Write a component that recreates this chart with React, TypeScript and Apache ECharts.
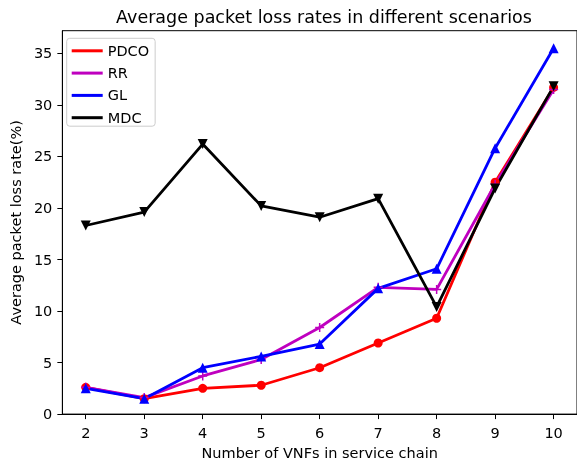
import React, { useEffect, useRef } from "react";
import * as echarts from "echarts";

const xValues = [2, 3, 4, 5, 6, 7, 8, 9, 10];
const pdco = [2.6, 1.5, 2.5, 2.8, 4.5, 6.9, 9.3, 22.5, 31.7];
const rr = [2.6, 1.6, 3.7, 5.3, 8.4, 12.3, 12.1, 22.3, 31.5];
const gl = [2.5, 1.5, 4.5, 5.6, 6.8, 12.2, 14.1, 25.8, 35.5];
const mdc = [18.3, 19.6, 26.2, 20.2, 19.1, 20.9, 10.4, 21.9, 31.8];
const yTicks = [0, 5, 10, 15, 20, 25, 30, 35];
const seriesNames = ["PDCO", "RR", "GL", "MDC"];

const FONT = "DejaVu Sans";

export default function App() {
  const ref = useRef<HTMLDivElement>(null);
  useEffect(() => {
    if (!ref.current) return;
    const chart = echarts.init(ref.current, null, { renderer: "svg" });
    const pair = (ys: number[]) => xValues.map((x, i) => [x, ys[i]]);
    const mk = (name: string, data: number[], color: string, symbol: string, size: number, extra: any = {}) => ({
      name,
      type: "line",
      data: pair(data),
      symbol,
      symbolSize: size,
      lineStyle: { color, width: 2.8 },
      itemStyle: { color },
      ...extra,
    });
    chart.setOption({
      animation: false,
      title: {
        text: "Average packet loss rates in different scenarios",
        left: 319,
        textAlign: "center",
        top: 3,
        textStyle: { fontFamily: FONT, fontSize: 17.5, fontWeight: "normal", color: "#000" },
      },
      legend: {
        orient: "vertical",
        left: 66.7,
        top: 38.3,
        data: seriesNames,
        icon: "rect",
        itemWidth: 31,
        itemHeight: 3,
        itemGap: 7.3,
        itemStyle: { borderWidth: 0 },
        padding: [5, 6, 1, 5],
        borderColor: "#cccccc",
        borderWidth: 1,
        borderRadius: 3,
        backgroundColor: "rgba(255,255,255,0.8)",
        textStyle: { fontFamily: FONT, fontSize: 14.5, color: "#000", lineHeight: 15 },
      },
      grid: { left: 60, top: 30.7, width: 518.6, height: 387.6, show: true, borderColor: "#000", borderWidth: 1, backgroundColor: "transparent" },
      xAxis: {
        type: "value",
        min: 1.6,
        max: 10.4,
        name: "Number of VNFs in service chain",
        nameLocation: "middle",
        nameGap: 30,
        nameTextStyle: { fontFamily: FONT, fontSize: 14.5, color: "#000" },
        axisLine: { show: true, onZero: false, lineStyle: { color: "#000", width: 1 } },
        axisTick: { show: true, length: 5, customValues: xValues, lineStyle: { color: "#000" } },
        axisLabel: { customValues: xValues, margin: 11, fontFamily: FONT, fontSize: 14.5, color: "#000" },
        splitLine: { show: false },
      },
      yAxis: {
        type: "value",
        min: 0,
        max: 37.2,
        name: "Average packet loss rate(%)",
        nameLocation: "middle",
        nameGap: 38,
        nameTextStyle: { fontFamily: FONT, fontSize: 14.5, color: "#000" },
        axisLine: { show: true, lineStyle: { color: "#000", width: 1 } },
        axisTick: { show: true, length: 5, customValues: yTicks, lineStyle: { color: "#000" } },
        axisLabel: { customValues: yTicks, margin: 10, fontFamily: FONT, fontSize: 14.5, color: "#000" },
        splitLine: { show: false },
      },
      series: [
        mk("PDCO", pdco, "#ff0000", "circle", 9),
        mk("RR", rr, "#bf00bf", "path://M5,0 L5,10 M0,5 L10,5", 9, {
          itemStyle: { color: "#bf00bf", borderColor: "#bf00bf", borderWidth: 1.5 },
        }),
        mk("GL", gl, "#0000ff", "triangle", 10),
        mk("MDC", mdc, "#000000", "triangle", 10, { symbolRotate: 180 }),
      ],
    });
    return () => chart.dispose();
  }, []);
  return <div ref={ref} style={{ position: "fixed", left: 0, top: 0, width: 577, height: 465 }} />;
}
